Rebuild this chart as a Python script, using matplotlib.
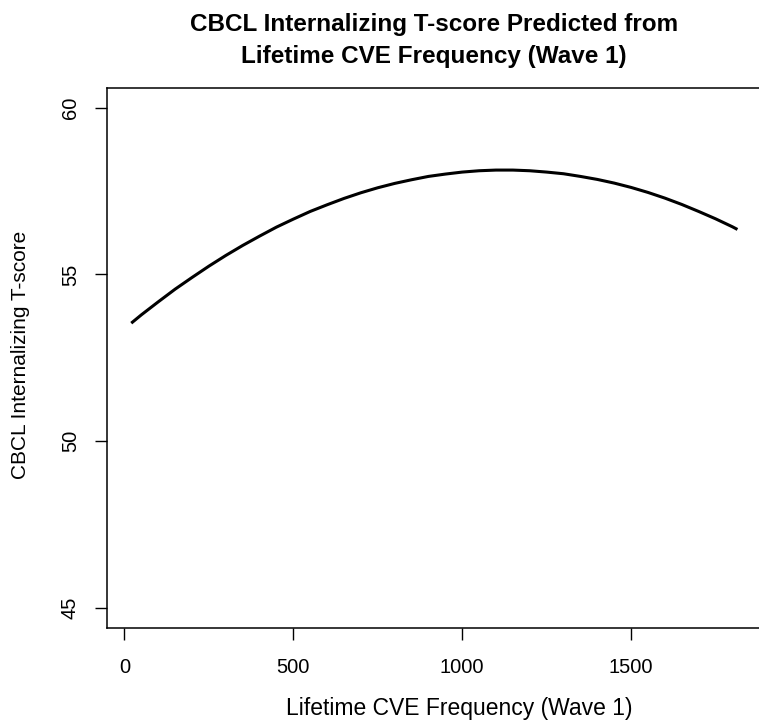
import matplotlib
matplotlib.use("Agg")
import matplotlib.pyplot as plt

plt.rcParams['font.family'] = ['Liberation Sans', 'DejaVu Sans']

# predicted T-score along the CVE frequency range
cve_freq = [20, 50, 100, 150, 200, 250, 300, 350, 400, 450, 500, 550, 600,
            650, 700, 750, 800, 850, 900, 950, 1000, 1050, 1100, 1150, 1200,
            1250, 1300, 1350, 1400, 1450, 1500, 1550, 1600, 1650, 1700, 1750,
            1800, 1815]
tscore = [53.54, 53.79, 54.18, 54.56, 54.91, 55.25, 55.57, 55.87, 56.15,
          56.42, 56.66, 56.89, 57.09, 57.28, 57.45, 57.60, 57.73, 57.84,
          57.94, 58.01, 58.07, 58.11, 58.13, 58.13, 58.11, 58.07, 58.02,
          57.94, 57.85, 57.74, 57.61, 57.46, 57.29, 57.10, 56.89, 56.67,
          56.43, 56.35]

x_ticks = [0, 500, 1000, 1500]
y_ticks = [45, 50, 55, 60]

title_lines = ['CBCL Internalizing T-score Predicted from',
               'Lifetime CVE Frequency (Wave 1)']
x_label = 'Lifetime CVE Frequency (Wave 1)'
y_label = 'CBCL Internalizing T-score'

W, H = 759, 728
fig = plt.figure(figsize=(W / 100, H / 100), dpi=100)

# plot region; right side runs past the edge of the image
left, right, top, bottom = 107, 761.7, 87.7, 628
ax = fig.add_axes([left / W, 1 - bottom / H, (right - left) / W, (bottom - top) / H])

ax.plot(cve_freq, tscore, color='black', linewidth=2.2,
        solid_capstyle='butt', solid_joinstyle='round')

xr = max(cve_freq) - min(cve_freq)
ax.set_xlim(min(cve_freq) - 0.04 * xr, max(cve_freq) + 0.04 * xr)
ax.set_ylim(45 - 0.6, 60 + 0.6)

ax.set_xticks(x_ticks)
ax.set_yticks(y_ticks)
ax.set_xticklabels([str(v) for v in x_ticks], fontsize=14.5)
ax.set_yticklabels([str(v) for v in y_ticks], fontsize=14.5, rotation=90, va='center')
ax.tick_params(direction='out', length=8.6, width=1.0, color='black', pad=11)
ax.tick_params(axis='x', pad=13)

for s in ax.spines.values():
    s.set_linewidth(1.1)
    s.set_color('black')

fig.text(434 / W, 1 - 25 / H, title_lines[0], ha='center', va='center',
         fontsize=17.5, fontweight='bold')
fig.text(434 / W, 1 - 57 / H, title_lines[1], ha='center', va='center',
         fontsize=17.5, fontweight='bold')
fig.text(459 / W, 1 - 708 / H, x_label, ha='center', va='center', fontsize=16.5)
fig.text(21 / W, 1 - 355 / H, y_label, ha='center', va='center', rotation=90,
         fontsize=15)

fig.savefig('out.png', dpi=100)
